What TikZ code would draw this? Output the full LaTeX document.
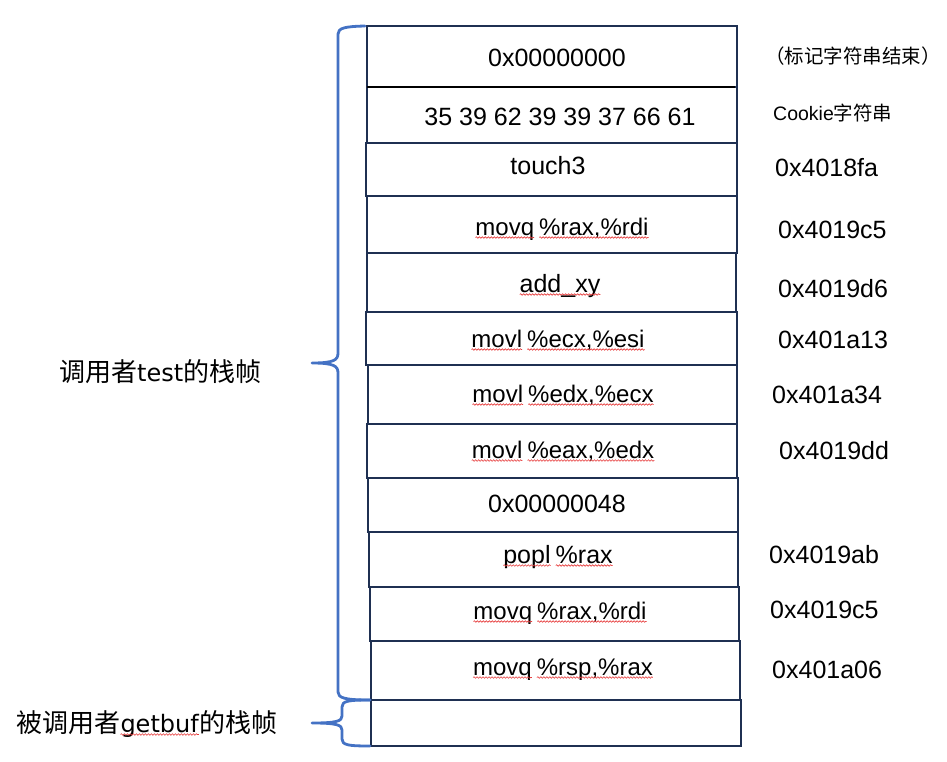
\documentclass[tikz,border=0pt]{standalone}
\usepackage{fontspec}
\setmainfont{Liberation Sans}
\newfontfamily\cjk{Noto Sans CJK SC}
\newfontfamily\wlat{DejaVu Sans}
\usetikzlibrary{decorations.pathmorphing}
\definecolor{boxc}{RGB}{31,48,82}
\definecolor{bracec}{RGB}{68,114,196}
\definecolor{wavec}{RGB}{230,60,60}
\newcommand\sq[1]{\tikz[baseline=(w.base)]{\node[inner sep=0pt,outer sep=0pt](w){#1};\draw[wavec,line width=0.6pt,decorate,decoration={snake,amplitude=0.8pt,segment length=3pt}]([yshift=-2.5pt]w.base west)--([yshift=-2.5pt]w.base east);}}
\newcommand\gap{\hspace{4.5pt}}
\tikzset{
  cell/.style={draw=boxc,line width=2.6pt,rectangle,inner sep=0pt,outer sep=0pt},
  txt/.style={anchor=base,inner sep=0pt,font=\fontsize{25}{30}\selectfont},
  ins/.style={anchor=base,inner sep=0pt,font=\fontsize{24}{29}\selectfont},
  addr/.style={anchor=base west,inner sep=0pt,font=\fontsize{25}{30}\selectfont},
  note/.style={anchor=base west,inner sep=0pt,font=\fontsize{19.5}{24}\selectfont},
  side/.style={anchor=base west,inner sep=0pt,font=\fontsize{26}{31}\selectfont},
  brace/.style={draw=bracec,line width=2.8pt,line cap=round,line join=round}
}
\begin{document}
\begin{tikzpicture}[x=1pt,y=-1pt]
\useasboundingbox (0,0) rectangle (947,762);
% stack cells
\node[cell,minimum width=370pt,minimum height=61pt] (r1) at (552,56.5) {};
\node[cell,minimum width=370pt,minimum height=56pt] (r2) at (552,115) {};
\node[cell,minimum width=371pt,minimum height=53pt] (r3) at (551.5,169.5) {};
\node[cell,minimum width=370pt,minimum height=57pt] (r4) at (552,224.5) {};
\node[cell,minimum width=369pt,minimum height=59pt] (r5) at (551.5,282.5) {};
\node[cell,minimum width=371pt,minimum height=53pt] (r6) at (551.5,338.5) {};
\node[cell,minimum width=369pt,minimum height=59pt] (r7) at (552.5,394.5) {};
\node[cell,minimum width=370pt,minimum height=54pt] (r8) at (552,451) {};
\node[cell,minimum width=370pt,minimum height=54pt] (r9) at (553,505) {};
\node[cell,minimum width=369pt,minimum height=55pt] (r10) at (553.5,559.5) {};
\node[cell,minimum width=369pt,minimum height=54pt] (r11) at (554.5,614) {};
\node[cell,minimum width=369pt,minimum height=59pt] (r12) at (555.5,670.5) {};
\node[cell,minimum width=370pt,minimum height=46pt] (r13) at (556,723) {};
\draw[black,line width=2.6pt] (r1.south west) -- ([xshift=-2pt]r1.south east);
% cell texts
\node[txt] (t1) at (557,66.5) {0x00000000};
\node[txt] (t2) at (560,126) {35 39 62 39 39 37 66 61};
\node[txt] (t3) at (548,175) {touch3};
\node[ins] (t4) at (562,235) {\sq{movq}\gap\sq{\%rax,\%rdi}};
\node[txt] (t5) at (560,292) {\sq{add\_xy}};
\node[ins] (t6) at (558,347) {\sq{movl}\gap\sq{\%ecx,\%esi}};
\node[ins] (t7) at (563,402) {\sq{movl}\gap\sq{\%edx,\%ecx}};
\node[ins] (t8) at (563,458) {\sq{movl}\gap\sq{\%eax,\%edx}};
\node[txt] (t9) at (557,512) {0x00000048};
\node[txt] (t10) at (558,563) {\sq{popl}\gap\sq{\%rax}};
\node[ins] (t11) at (560,619) {\sq{movq}\gap\sq{\%rax,\%rdi}};
\node[ins] (t12) at (563,675) {\sq{movq}\gap\sq{\%rsp,\%rax}};
% right notes and addresses
\node[note] (n1) at (765,64) {\cjk （标记字符串结束）};
\node[note] (n2) at (773,120.5) {Cookie{\cjk 字符串}};
\node[addr] (a3) at (775,177) {0x4018fa};
\node[addr] (a4) at (778,238) {0x4019c5};
\node[addr] (a5) at (778,297) {0x4019d6};
\node[addr] (a6) at (778,348) {0x401a13};
\node[addr] (a7) at (772,403) {0x401a34};
\node[addr] (a8) at (779,459) {0x4019dd};
\node[addr] (a10) at (769,563) {0x4019ab};
\node[addr] (a11) at (770,618) {0x4019c5};
\node[addr] (a12) at (772,678) {0x401a06};
% left labels
\node[side] (s1) at (59,381) {{\cjk 调用者}{\wlat\fontsize{24}{29}\selectfont test}{\cjk 的栈帧}};
\node[side] (s2) at (16,732) {{\cjk 被调用者}\sq{\wlat\fontsize{24}{29}\selectfont getbuf}{\cjk 的栈帧}};
% braces
\coordinate (b1top) at (365,26);
\coordinate (b1tip) at (312,363);
\coordinate (b1bot) at (370,700);
\draw[brace] (b1top) .. controls (345,26.5) and (338,28) .. (338,34) -- (338,353)
  .. controls (338,360) and (334,363) .. (b1tip)
  .. controls (334,363) and (338,366) .. (338,373) -- (338,692)
  .. controls (338,698) and (345,700) .. (b1bot);
\coordinate (b2top) at (370,700);
\coordinate (b2tip) at (312,723);
\coordinate (b2bot) at (370,746);
\draw[brace] (b2top) .. controls (348,700) and (342,701) .. (342,707) -- (342,716)
  .. controls (342,721) and (337,723) .. (b2tip)
  .. controls (337,723) and (342,725) .. (342,730) -- (342,739)
  .. controls (342,745) and (348,746) .. (b2bot);
\end{tikzpicture}
\end{document}
